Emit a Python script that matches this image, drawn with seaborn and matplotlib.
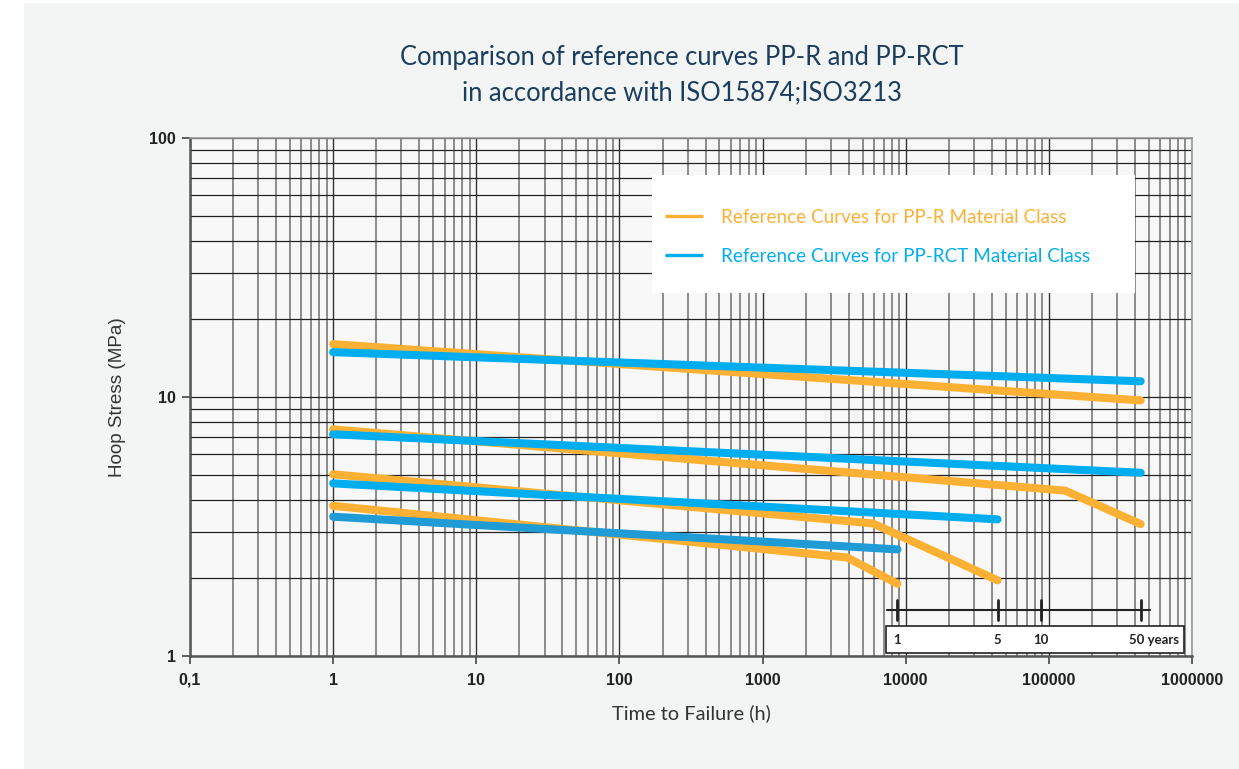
import numpy as np
import pandas as pd
import matplotlib
matplotlib.use("Agg")
import matplotlib.pyplot as plt
from matplotlib.patches import Rectangle
from matplotlib.ticker import FixedLocator, NullFormatter, LogLocator
from matplotlib.lines import Line2D
import seaborn as sns

# ---------------- data ----------------
title_lines = ["Comparison of reference curves PP-R and PP-RCT",
               "in accordance with ISO15874;ISO3213"]
x_label = "Time to Failure (h)"
y_label = "Hoop Stress (MPa)"
legend_labels = ["Reference Curves for PP-R Material Class",
                 "Reference Curves for PP-RCT Material Class"]

x_ticks = [0.1, 1, 10, 100, 1000, 10000, 100000, 1000000]
x_tick_labels = ["0,1", "1", "10", "100", "1000", "10000", "100000", "1000000"]
y_ticks = [1, 10, 100]
y_tick_labels = ["1", "10", "100"]

# PP-R reference curves (time h, stress MPa)
ppr_t = [[1, 438000],
         [1, 130000, 438000],
         [1, 5900, 43800],
         [1, 3900, 8760]]
ppr_s = [[16.0, 9.7],
         [7.5, 4.35, 3.23],
         [5.03, 3.25, 1.96],
         [3.80, 2.40, 1.90]]
# PP-RCT reference curves
pprct_t = [[1, 438000],
           [1, 438000],
           [1, 43800],
           [1, 8760]]
pprct_s = [[14.9, 11.5],
           [7.18, 5.1],
           [4.64, 3.37],
           [3.45, 2.58]]

year_hours = [8760, 43800, 87600, 438000]
year_labels = ["1", "5", "10", "50 years"]

# ---------------- style ----------------
ORANGE = "#FDB134"
BLUE = "#00AEEF"
BLUE_DARK = "#1F9BD6"
NAVY = "#1B3D5E"

sns.set_style("ticks")
plt.rcParams["font.family"] = ["Lato", "DejaVu Sans"]

rows = []
for i, (ts, ss) in enumerate(zip(ppr_t, ppr_s)):
    for t, s in zip(ts, ss):
        rows.append({"curve": f"R{i}", "t": t, "s": s})
for i, (ts, ss) in enumerate(zip(pprct_t, pprct_s)):
    for t, s in zip(ts, ss):
        rows.append({"curve": f"C{i}", "t": t, "s": s})
df = pd.DataFrame(rows)
palette = {"R0": ORANGE, "R1": ORANGE, "R2": ORANGE, "R3": ORANGE,
           "C0": BLUE, "C1": BLUE, "C2": BLUE, "C3": BLUE_DARK}

fig = plt.figure(figsize=(12.39, 7.69), dpi=100, facecolor="white")
fig.patches.append(Rectangle((24 / 1239, 0), 1, 1 - 3 / 769, transform=fig.transFigure,
                             facecolor="#f3f4f4", edgecolor="none", zorder=-10))
ax = fig.add_axes([190 / 1239, 1 - 656 / 769, 1002 / 1239, 518 / 769])
ax.set_facecolor("#f8f8f8")

ax.set_xscale("log")
ax.set_yscale("log")
ax.set_xlim(0.1, 1e6)
ax.set_ylim(1, 100)

sns.lineplot(data=df, x="t", y="s", hue="curve", palette=palette,
             hue_order=["R0", "R1", "R2", "R3", "C0", "C1", "C2", "C3"],
             estimator=None, sort=False, lw=5.8, ax=ax, legend=False,
             solid_capstyle="round", solid_joinstyle="miter", zorder=3)

# grid
ax.set_axisbelow(True)
ax.xaxis.set_major_locator(FixedLocator(x_ticks))
ax.xaxis.set_minor_locator(LogLocator(base=10, subs=np.arange(2, 10), numticks=20))
ax.yaxis.set_major_locator(FixedLocator(y_ticks))
ax.yaxis.set_minor_locator(LogLocator(base=10, subs=np.arange(2, 10), numticks=20))
ax.xaxis.set_minor_formatter(NullFormatter())
ax.yaxis.set_minor_formatter(NullFormatter())
ax.set_xticklabels(x_tick_labels)
ax.set_yticklabels(y_tick_labels)
ax.grid(which="major", axis="x", color="#333333", lw=1.0)
ax.grid(which="minor", axis="x", color="#8c8c8c", lw=1.4)
ax.grid(which="both", axis="y", color="#222222", lw=0.9)

ax.tick_params(which="minor", length=0)
ax.tick_params(which="major", length=6, width=1.2, color="#444444", direction="out")
ax.tick_params(axis="x", which="major", pad=6)
ax.tick_params(axis="y", which="major", pad=4)
for lab in ax.get_xticklabels() + ax.get_yticklabels():
    lab.set_fontfamily(["Liberation Sans", "DejaVu Sans"])
    lab.set_fontweight("bold")
    lab.set_fontsize(11.5)
    lab.set_color("#222222")

for side in ["left", "bottom"]:
    ax.spines[side].set_color("#555555")
    ax.spines[side].set_linewidth(1.8)
for side in ["top", "right"]:
    ax.spines[side].set_color("#999999")
    ax.spines[side].set_linewidth(1.2)

ax.set_xlabel(x_label, fontsize=14.4, color="#333333", labelpad=12)
ax.set_ylabel(y_label, fontsize=13.6, color="#333333", labelpad=17,
              fontfamily=["Liberation Sans", "DejaVu Sans"])

# legend box
ax.add_patch(Rectangle((0.461, 0.7008), 0.482, 0.2278, transform=ax.transAxes,
                       facecolor="white", edgecolor="none", zorder=4))
handles = [Line2D([], [], color=ORANGE, lw=2.4, solid_capstyle="butt"),
           Line2D([], [], color=BLUE, lw=2.4, solid_capstyle="butt")]
leg = ax.legend(handles, legend_labels, loc="center left",
                bbox_to_anchor=(0.465, 0.809), frameon=False, fontsize=13.6,
                borderpad=0, handlelength=2.0, handletextpad=0.95,
                labelspacing=1.15)
leg.set_zorder(5)
for txt, c in zip(leg.get_texts(), [ORANGE, BLUE]):
    txt.set_color(c)

# years scale
ax.add_patch(Rectangle((7260, 1.027), 8.8e5 - 7260, 1.309 - 1.027,
                       facecolor="white", edgecolor="#222222", lw=1.2, zorder=4))
ax.plot([7380, 5.1e5], [1.505, 1.505], color="#222222", lw=1.5, zorder=4)
for h in year_hours:
    ax.plot([h, h], [1.377, 1.645], color="#222222", lw=2.0, zorder=4)
label_pos = [8760, 43800, 87600, 5.4e5]
for xp, lab in zip(label_pos, year_labels):
    ax.text(xp, 1.153, lab, ha="center", va="center", fontsize=9.5,
            fontweight="bold", color="#222222", zorder=5)

# title
fig.text(682 / 1239, 1 - 58 / 769, title_lines[0], ha="center", va="center",
         fontsize=18.4, color=NAVY)
fig.text(682 / 1239, 1 - 93 / 769, title_lines[1], ha="center", va="center",
         fontsize=18.4, color=NAVY)

fig.savefig("out.png", dpi=100, facecolor="white")
